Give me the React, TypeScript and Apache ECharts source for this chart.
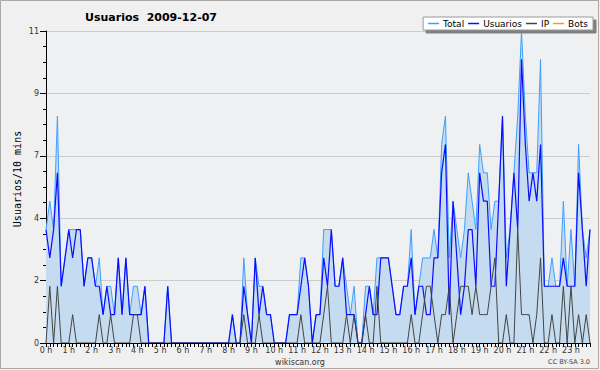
import React, { useEffect, useRef } from "react";
import * as echarts from "echarts";

// 10-minute slots, 0:00 .. 23:50
const categories: string[] = [];
for (let h = 0; h < 24; h++) {
  for (let m = 0; m < 60; m += 10) categories.push(`${h}:${m < 10 ? "0" + m : m}`);
}

const total = [
  4, 5, 4, 8, 2, 3, 4, 4, 4, 4, 2, 3, 3, 2, 3, 1, 2, 2, 1, 3, 1, 3, 1, 2,
  2, 1, 2, 0, 0, 0, 0, 0, 2, 0, 0, 0, 0, 0, 0, 0, 0, 0, 0, 0, 0, 0, 0, 0,
  0, 1, 0, 0, 3, 1, 0, 3, 2, 2, 1, 1, 0, 0, 0, 0, 1, 1, 1, 3, 3, 2, 0, 1,
  1, 4, 4, 4, 2, 2, 3, 2, 1, 2, 0, 0, 2, 2, 1, 3, 3, 3, 3, 2, 1, 1, 2, 2,
  4, 1, 2, 3, 3, 3, 4, 3, 7, 8, 3, 5, 4, 3, 4, 6, 5, 4, 7, 6, 6, 4, 5, 5,
  8, 3, 4, 6, 8, 11, 8, 6, 6, 6, 10, 2, 2, 3, 2, 2, 5, 2, 4, 2, 7, 4, 3, 4,
];

const usuarios = [
  4, 3, 4, 6, 2, 3, 4, 3, 4, 4, 2, 3, 3, 2, 2, 1, 2, 1, 1, 3, 1, 3, 1, 1,
  1, 1, 2, 0, 0, 0, 0, 0, 2, 0, 0, 0, 0, 0, 0, 0, 0, 0, 0, 0, 0, 0, 0, 0,
  0, 1, 0, 0, 2, 1, 0, 3, 1, 2, 1, 1, 0, 0, 0, 0, 1, 1, 1, 2, 3, 2, 0, 1,
  1, 3, 2, 4, 2, 2, 3, 1, 1, 1, 0, 0, 1, 2, 1, 1, 3, 3, 3, 2, 1, 1, 2, 2,
  3, 1, 2, 2, 1, 1, 3, 3, 6, 7, 1, 5, 3, 1, 2, 4, 4, 2, 6, 5, 5, 2, 2, 5,
  8, 2, 4, 6, 4, 10, 7, 5, 6, 5, 7, 2, 2, 2, 2, 2, 3, 2, 2, 2, 6, 4, 2, 4,
];

const ip = [
  0, 2, 0, 2, 0, 0, 0, 1, 0, 0, 0, 0, 0, 0, 1, 0, 0, 1, 0, 0, 0, 0, 0, 1,
  1, 0, 0, 0, 0, 0, 0, 0, 0, 0, 0, 0, 0, 0, 0, 0, 0, 0, 0, 0, 0, 0, 0, 0,
  0, 0, 0, 0, 1, 0, 0, 0, 1, 0, 0, 0, 0, 0, 0, 0, 0, 0, 0, 1, 0, 0, 0, 0,
  0, 1, 2, 0, 0, 0, 0, 1, 0, 1, 0, 0, 1, 0, 0, 2, 0, 0, 0, 0, 0, 0, 0, 0,
  1, 0, 0, 1, 2, 2, 1, 0, 1, 1, 2, 0, 1, 2, 2, 2, 1, 2, 1, 1, 1, 2, 3, 0,
  0, 1, 0, 0, 4, 1, 1, 1, 0, 1, 3, 0, 0, 1, 0, 0, 2, 0, 2, 0, 1, 0, 1, 0,
];

const bots = [
  0, 0, 0, 0, 0, 0, 0, 0, 0, 0, 0, 0, 0, 0, 0, 0, 0, 0, 0, 0, 0, 0, 0, 0,
  0, 0, 0, 0, 0, 0, 0, 0, 0, 0, 0, 0, 0, 0, 0, 0, 0, 0, 0, 0, 0, 0, 0, 0,
  0, 0, 0, 0, 0, 0, 0, 0, 0, 0, 0, 0, 0, 0, 0, 0, 0, 0, 0, 0, 0, 0, 0, 0,
  0, 0, 0, 0, 0, 0, 0, 0, 0, 0, 0, 0, 0, 0, 0, 0, 0, 0, 0, 0, 0, 0, 0, 0,
  0, 0, 0, 0, 0, 0, 0, 0, 0, 0, 0, 0, 0, 0, 0, 0, 0, 0, 0, 0, 0, 0, 0, 0,
  0, 0, 0, 0, 0, 0, 0, 0, 0, 0, 0, 0, 0, 0, 0, 0, 0, 0, 0, 0, 0, 0, 0, 0,
];

const seriesNames = ["Total", "Usuarios", "IP", "Bots"];
const seriesColors = ["#3d9fff", "#0c0cff", "#444444", "#ff9900"];
const titleText = "Usuarios  2009-12-07";
const yName = "Usuarios/10 mins";

const FONT = "DejaVu Sans";

export default function App() {
  const ref = useRef<HTMLDivElement>(null);

  useEffect(() => {
    if (!ref.current) return;
    const chart = echarts.init(ref.current, undefined, { renderer: "svg" });
    const option: any = {
      animation: false,
      backgroundColor: "#f0f0f0",
      grid: {
        left: 46,
        right: 10,
        top: 31,
        bottom: 27,
        show: true,
        backgroundColor: "#eef0f2",
        borderWidth: 0,
      },
      legend: {
        data: seriesNames.map((n, i) => ({
          name: n,
          icon: "rect",
          itemStyle: { color: seriesColors[i], borderWidth: 0 },
        })),
        right: 7,
        top: 17,
        itemWidth: 11,
        itemHeight: 1.5,
        itemGap: 4,
        padding: [2, 5, 2, 5],
        backgroundColor: "#ffffff",
        borderColor: "#9a9a9a",
        borderWidth: 1,
        shadowColor: "#808080",
        shadowBlur: 0,
        shadowOffsetX: 3,
        shadowOffsetY: 3,
        itemStyle: { borderWidth: 0 },
        lineStyle: { width: 0 },
        textStyle: { fontSize: 9, fontFamily: FONT, color: "#000", padding: [0, 0, 0, -1] },
      },
      xAxis: {
        type: "category",
        data: categories,
        boundaryGap: false,
        z: 10,
        axisLine: { show: true, lineStyle: { color: "#000", width: 1 } },
        axisTick: { show: true, interval: 0, length: 4, lineStyle: { color: "#000" } },
        axisLabel: {
          interval: (i: number) => i % 6 === 0,
          formatter: (v: string) => v.split(":")[0] + " h",
          fontSize: 8,
          fontFamily: FONT,
          color: "#333",
          margin: 3,
        },
        splitLine: { show: false },
      },
      yAxis: {
        type: "value",
        min: 0,
        max: 11,
        interval: 2.2,
        axisLine: { show: true, lineStyle: { color: "#000" } },
        axisTick: { show: true, length: 6, lineStyle: { color: "#000" } },
        minorTick: { show: true, splitNumber: 4, length: 3, lineStyle: { color: "#000" } },
        axisLabel: {
          formatter: (v: number) => String(Math.round(v)),
          fontSize: 8,
          fontFamily: FONT,
          color: "#333",
          margin: 7,
        },
        splitLine: { show: true, lineStyle: { color: "#cccccc", width: 1 } },
      },
      series: [
        {
          name: "Total",
          type: "line",
          data: total,
          symbol: "none",
          itemStyle: { color: seriesColors[0] },
          lineStyle: { width: 1, color: seriesColors[0] },
          areaStyle: { color: "#c5dcf0", opacity: 1 },
          z: 2,
        },
        {
          name: "Usuarios",
          type: "line",
          data: usuarios,
          symbol: "none",
          itemStyle: { color: seriesColors[1] },
          lineStyle: { width: 1.2, color: seriesColors[1] },
          z: 3,
        },
        {
          name: "IP",
          type: "line",
          data: ip,
          symbol: "none",
          itemStyle: { color: seriesColors[2] },
          lineStyle: { width: 1, color: seriesColors[2] },
          z: 4,
        },
        {
          name: "Bots",
          type: "line",
          data: bots,
          symbol: "none",
          itemStyle: { color: seriesColors[3] },
          lineStyle: { width: 1, color: seriesColors[3] },
          z: 1,
        },
      ],
      graphic: [
        {
          type: "text",
          x: 151,
          y: 17,
          style: {
            text: titleText,
            font: `bold 11px "${FONT}"`,
            fill: "#000",
            textAlign: "center",
            textVerticalAlign: "middle",
          },
        },
        {
          type: "text",
          x: 17,
          y: 179,
          rotation: Math.PI / 2,
          style: {
            text: yName,
            font: `10px "DejaVu Sans Mono"`,
            fill: "#000",
            textAlign: "center",
            textVerticalAlign: "middle",
          },
        },
        {
          type: "text",
          x: 300,
          y: 362,
          style: {
            text: "wikiscan.org",
            font: `8px "${FONT}"`,
            fill: "#333",
            textAlign: "center",
            textVerticalAlign: "middle",
          },
        },
        {
          type: "text",
          x: 590,
          y: 362,
          style: {
            text: "CC BY-SA 3.0",
            font: `6.5px "${FONT}"`,
            fill: "#444",
            textAlign: "right",
            textVerticalAlign: "middle",
          },
        },
        {
          type: "rect",
          shape: { x: 0.5, y: 0.5, width: 598, height: 368 },
          style: { fill: "none", stroke: "#a8a8a8", lineWidth: 1 },
          silent: true,
        },
      ],
    };
    chart.setOption(option);
    return () => chart.dispose();
  }, []);

  return (
    <div
      ref={ref}
      style={{ position: "fixed", left: 0, top: 0, width: 600, height: 370 }}
    />
  );
}
